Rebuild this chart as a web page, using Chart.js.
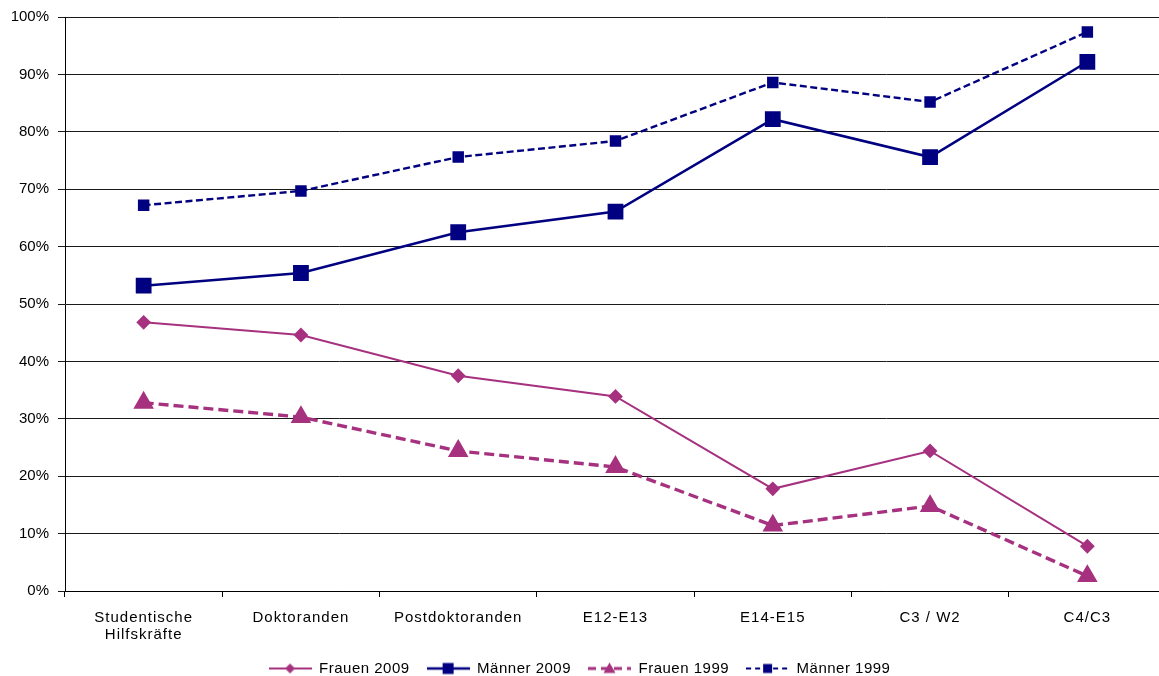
<!DOCTYPE html>
<html><head><meta charset="utf-8">
<script src="https://cdn.jsdelivr.net/npm/chart.js@4"></script>
<style>html,body{margin:0;padding:0;background:#fff;overflow:hidden}canvas{display:block}</style>
</head><body><canvas id="c" width="1159" height="676" style="width:1159px;height:676px"></canvas>
<script>
const categories = [["Studentische","Hilfskräfte"],"Doktoranden","Postdoktoranden","E12-E13","E14-E15","C3 / W2","C4/C3"];
const frauen2009 = [46.8,44.6,37.5,33.9,17.8,24.4,7.8];
const maenner2009 = [53.2,55.4,62.5,66.1,82.2,75.6,92.2];
const frauen1999 = [32.8,30.3,24.4,21.6,11.4,14.8,2.6];
const maenner1999 = [67.2,69.7,75.6,78.4,88.6,85.2,97.4];
const seriesNames = ["Frauen 2009","Männer 2009","Frauen 1999","Männer 1999"];
const yTicks = [0,10,20,30,40,50,60,70,80,90,100];

const MAG = '#A6317F', NAVY = '#000080';
const FONT = 'Liberation Sans, Arial, sans-serif';
const PLOT_RIGHT = 1166; // plot area continues slightly past the picture's right edge

function legendIcon(color, lw, dash, shape, r){
  const W = 43, H = 16, cx = W/2, cy = 8;
  const c = document.createElement('canvas');
  c.width = W; c.height = H;
  const g = c.getContext('2d');
  g.strokeStyle = color; g.lineWidth = lw; g.setLineDash(dash);
  g.beginPath(); g.moveTo(0,cy); g.lineTo(W,cy); g.stroke();
  g.setLineDash([]); g.fillStyle = color;
  g.beginPath();
  if(shape==='diamond'){g.moveTo(cx,cy-r);g.lineTo(cx+r,cy);g.lineTo(cx,cy+r);g.lineTo(cx-r,cy);}
  else if(shape==='square'){g.rect(cx-r,cy-r,2*r,2*r);}
  else if(shape==='triangle'){g.moveTo(cx,cy-r);g.lineTo(cx+r,cy+r*0.75);g.lineTo(cx-r,cy+r*0.75);}
  g.closePath(); g.fill();
  return c;
}
const icons = [
  legendIcon(MAG,2,[], 'diamond',5),
  legendIcon(NAVY,2.5,[], 'square',5.5),
  legendIcon(MAG,3,[8,5],'triangle',6),
  legendIcon(NAVY,2,[5,4],'square',4.5)
];

function withSpacing(fn, sp){
  return function(...args){
    const ctx = this.ctx;
    ctx.save(); ctx.letterSpacing = sp;
    const r = fn.apply(this, args);
    ctx.restore();
    return r;
  };
}

const spacingPlugin = {
  id: 'spacing',
  afterInit(chart){
    const lg = chart.legend;
    if(lg && !lg._patched){
      const origFit = lg.fit;
      lg.fit = function(){
        withSpacing(origFit, '0.5px').call(this);
        this.height = 32;
      };
      lg.draw = withSpacing(lg.draw, '0.5px');
      lg._patched = true;
    }
  },
  afterLayout(chart){
    const ca = chart.chartArea;
    ca.right = PLOT_RIGHT; ca.width = ca.right - ca.left;
    const x = chart.scales.x;
    x.right = PLOT_RIGHT; x.width = x.right - x.left;
    x.configure();
  }
};

new Chart(document.getElementById('c'), {
  type: 'line',
  data: {
    labels: categories,
    datasets: [
      {label: seriesNames[0], data: frauen2009, borderColor: MAG, backgroundColor: MAG, borderWidth: 2, pointStyle: 'rectRot', pointRadius: 6, pointHoverRadius: 6, tension: 0},
      {label: seriesNames[1], data: maenner2009, borderColor: NAVY, backgroundColor: NAVY, borderWidth: 2.5, pointStyle: 'rect', pointRadius: 9.4, pointHoverRadius: 9.4, tension: 0},
      {label: seriesNames[2], data: frauen1999, borderColor: MAG, backgroundColor: MAG, borderWidth: 3.4, borderDash: [10,5], pointStyle: 'triangle', pointRadius: 8.5, pointHoverRadius: 8.5, tension: 0},
      {label: seriesNames[3], data: maenner1999, borderColor: NAVY, backgroundColor: NAVY, borderWidth: 2.4, borderDash: [7,3.5], pointStyle: 'rect', pointRadius: 6.4, pointHoverRadius: 6.4, tension: 0}
    ]
  },
  plugins: [spacingPlugin],
  options: {
    responsive: false, devicePixelRatio: 1, animation: false,
    layout: {padding: {top: 17, right: 0, left: 0, bottom: 0}},
    plugins: {
      tooltip: {enabled: false},
      legend: {
        position: 'bottom',
        labels: {
          usePointStyle: true, pointStyleWidth: 43, boxHeight: 15, padding: 17,
          color: '#000', font: {family: FONT, size: 15},
          generateLabels: (chart) => chart.data.datasets.map((d,i)=>({
            text: d.label, pointStyle: icons[i], datasetIndex: i, fontColor: '#000',
            strokeStyle: d.borderColor, fillStyle: d.backgroundColor, lineWidth: 0, hidden: false
          }))
        }
      }
    },
    scales: {
      x: {
        offset: true,
        grid: {offset: true, drawOnChartArea: false, drawTicks: true, tickLength: 6, color: '#000'},
        border: {color: '#000', width: 1},
        ticks: {color: '#000', padding: 13, maxRotation: 0, autoSkip: false, font: {family: FONT, size: 15, lineHeight: 1.1}},
        afterFit: (s) => {
          s.height = 53; s.paddingLeft = 0; s.paddingRight = 0;
          if(!s._patched){ s.drawLabels = withSpacing(s.drawLabels, '1px'); s._patched = true; }
        }
      },
      y: {
        min: 0, max: 100,
        afterBuildTicks: (s) => { s.ticks = yTicks.map(v=>({value: v})); },
        grid: {color: '#1a1a1a', lineWidth: 1, drawTicks: true, tickLength: 7},
        border: {color: '#000', width: 1},
        ticks: {color: '#000', padding: 9, callback: v => v + '%', font: {family: FONT, size: 15}},
        afterFit: (s) => { s.width = 65; s.paddingTop = 0; s.paddingBottom = 0; }
      }
    }
  }
});
</script></body></html>
